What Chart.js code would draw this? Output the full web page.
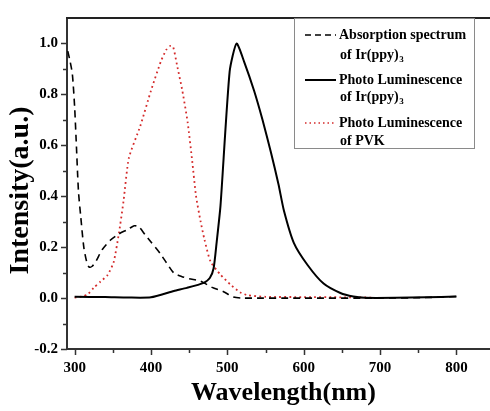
<!DOCTYPE html>
<html>
<head>
<meta charset="utf-8">
<script src="https://cdn.jsdelivr.net/npm/chart.js@4.4.0/dist/chart.umd.min.js"></script>
<style>
  html, body { margin: 0; padding: 0; background: #fff; overflow: hidden; }
  #wrap { width: 500px; height: 411px; }
</style>
</head>
<body>
<div id="wrap"><canvas id="myChart" width="500" height="411"></canvas></div>
<script>
// absorption spectrum of Ir(ppy)3 (dashed)
const absWl  = [291, 294, 297, 300, 302, 305, 308, 312, 316, 319, 323, 328, 336, 347, 358, 370, 378, 384, 392, 400, 412, 420, 430, 440, 450, 465, 480, 495, 508, 520, 600, 700, 760, 800];
const absVal = [0.97, 0.93, 0.88, 0.75, 0.62, 0.42, 0.32, 0.2, 0.14, 0.122, 0.125, 0.145, 0.19, 0.228, 0.252, 0.27, 0.284, 0.28, 0.25, 0.22, 0.175, 0.14, 0.098, 0.085, 0.076, 0.066, 0.042, 0.025, 0.004, 0, 0, 0, 0.002, 0.006];
// photo luminescence of Ir(ppy)3 (solid)
const irWl  = [300, 340, 370, 400, 430, 447, 469, 477, 482, 486, 491, 503, 512, 522, 535, 546, 557, 567, 574, 587, 605, 626, 648, 665, 680, 720, 760, 800];
const irVal = [0.005, 0.004, 0.002, 0.003, 0.028, 0.04, 0.06, 0.079, 0.117, 0.22, 0.363, 0.89, 1.0, 0.928, 0.814, 0.70, 0.573, 0.446, 0.344, 0.217, 0.13, 0.057, 0.02, 0.006, 0.001, 0.001, 0.003, 0.006];
// photo luminescence of PVK (red dotted)
const pvkWl  = [300, 310, 317, 325, 334, 343, 351, 358, 364, 371, 386, 400, 413, 420, 425, 429, 434, 441, 448, 454, 459, 465, 470, 478, 491, 504, 517, 527, 550, 600, 650, 690];
const pvkVal = [0.002, 0.006, 0.014, 0.04, 0.065, 0.09, 0.14, 0.255, 0.38, 0.55, 0.676, 0.815, 0.93, 0.975, 0.99, 0.986, 0.916, 0.815, 0.69, 0.537, 0.4, 0.3, 0.23, 0.143, 0.092, 0.053, 0.022, 0.011, 0.005, 0.004, 0.003, 0.002];

const xMajor = [300, 400, 500, 600, 700, 800];
const xMinor = [350, 450, 550, 650, 750];
const yMajor = [-0.2, 0, 0.2, 0.4, 0.6, 0.8, 1.0];
const yMinor = [-0.1, 0.1, 0.3, 0.5, 0.7, 0.9];

const legendItems = [
    { line1: 'Absorption spectrum', line2: 'of Ir(ppy)', sub: '3', color: '#000', dash: [6, 4], width: 1.6 },
    { line1: 'Photo Luminescence', line2: 'of Ir(ppy)', sub: '3', color: '#000', dash: [], width: 2 },
    { line1: 'Photo Luminescence', line2: 'of PVK', sub: '', color: '#d42a2a', dash: [1.5, 3], width: 1.5 }
];

const serif = '"Liberation Serif", "Times New Roman", serif';

function toPoints(xs, ys) {
    return xs.map((x, i) => ({ x: x, y: ys[i] }));
}

// ticks (major + minor), top frame line and the boxed legend
const decor = {
    id: 'decor',
    afterDraw(chart) {
        const c = chart.ctx;
        const xs = chart.scales.x;
        const ys = chart.scales.y;
        const area = chart.chartArea;
        c.save();
        c.strokeStyle = '#333';
        c.lineWidth = 1.5;
        c.beginPath();
        xMajor.forEach(v => { const p = Math.round(xs.getPixelForValue(v)) + 0.5; c.moveTo(p, area.bottom); c.lineTo(p, area.bottom + 6); });
        xMinor.forEach(v => { const p = Math.round(xs.getPixelForValue(v)) + 0.5; c.moveTo(p, area.bottom); c.lineTo(p, area.bottom + 4); });
        yMajor.forEach(v => { const p = Math.round(ys.getPixelForValue(v)) + 0.5; c.moveTo(area.left, p); c.lineTo(area.left - 6, p); });
        yMinor.forEach(v => { const p = Math.round(ys.getPixelForValue(v)) + 0.5; c.moveTo(area.left, p); c.lineTo(area.left - 4, p); });
        c.stroke();

        // top frame
        c.lineWidth = 2;
        c.strokeStyle = '#222';
        c.beginPath();
        c.moveTo(area.left - 1, area.top);
        c.lineTo(chart.width, area.top);
        c.stroke();

        // legend
        const bx = 294, by = 18, bw = 180, bh = 130;
        c.fillStyle = '#fff';
        c.fillRect(bx, by, bw, bh);
        c.strokeStyle = '#8a8a8a';
        c.lineWidth = 1;
        c.strokeRect(bx + 0.5, by + 0.5, bw, bh);
        const rows = [[35, 55], [80, 97], [123, 141]];
        c.textBaseline = 'middle';
        c.textAlign = 'left';
        legendItems.forEach((it, i) => {
            const y1 = rows[i][0], y2 = rows[i][1];
            c.strokeStyle = it.color;
            c.lineWidth = it.width;
            c.setLineDash(it.dash);
            c.beginPath();
            c.moveTo(305, y1);
            c.lineTo(336, y1);
            c.stroke();
            c.setLineDash([]);
            c.fillStyle = '#000';
            c.font = 'bold 14px ' + serif;
            c.fillText(it.line1, 339, y1);
            c.fillText(it.line2, 340, y2);
            if (it.sub) {
                const w = c.measureText(it.line2).width;
                c.font = 'bold 9px ' + serif;
                c.fillText(it.sub, 340 + w + 0.5, y2 + 5);
            }
        });
        c.restore();
    }
};

const ctx = document.getElementById('myChart').getContext('2d');
let myChart = new Chart(ctx, {
    type: 'line',
    data: {
        datasets: [{
            label: 'Absorption spectrum of Ir(ppy)3',
            data: toPoints(absWl, absVal),
            borderColor: '#000',
            borderWidth: 1.6,
            borderDash: [7, 5],
            pointRadius: 0,
            tension: 0.25
        }, {
            label: 'Photo Luminescence of Ir(ppy)3',
            data: toPoints(irWl, irVal),
            borderColor: '#000',
            borderWidth: 2,
            pointRadius: 0,
            tension: 0.2
        }, {
            label: 'Photo Luminescence of PVK',
            data: toPoints(pvkWl, pvkVal),
            borderColor: '#d42a2a',
            borderWidth: 1.8,
            borderDash: [1.8, 3.2],
            pointRadius: 0,
            tension: 0.2
        }]
    },
    options: {
        responsive: false,
        animation: false,
        layout: { padding: { top: 8, right: 0, left: 0, bottom: 0 } },
        plugins: { legend: { display: false }, tooltip: { enabled: false } },
        scales: {
            x: {
                type: 'linear',
                min: 290,
                max: 857,
                afterBuildTicks: s => { s.ticks = xMajor.map(v => ({ value: v })); },
                afterFit: s => { s.height = 62; },
                grid: { display: false, drawTicks: false },
                border: { display: true, color: '#333', width: 2 },
                ticks: {
                    color: '#000',
                    padding: 10,
                    maxRotation: 0,
                    font: { family: serif, size: 15, weight: 'bold' }
                },
                title: {
                    display: true,
                    text: 'Wavelength(nm)',
                    color: '#000',
                    padding: { top: 0, bottom: 2 },
                    font: { family: serif, size: 26, weight: 'bold' }
                }
            },
            y: {
                min: -0.2,
                max: 1.1,
                afterBuildTicks: s => { s.ticks = yMajor.map(v => ({ value: v })); },
                afterFit: s => { s.width = 67; },
                grid: { display: false, drawTicks: false },
                border: { display: true, color: '#333', width: 2 },
                ticks: {
                    color: '#000',
                    padding: 9,
                    callback: v => v.toFixed(1),
                    font: { family: serif, size: 15, weight: 'bold' }
                },
                title: {
                    display: true,
                    text: 'Intensity(a.u.)  ',
                    color: '#000',
                    padding: { top: 4, bottom: 0 },
                    font: { family: serif, size: 28, weight: 'bold' }
                }
            }
        }
    },
    plugins: [decor]
});
</script>
</body>
</html>
